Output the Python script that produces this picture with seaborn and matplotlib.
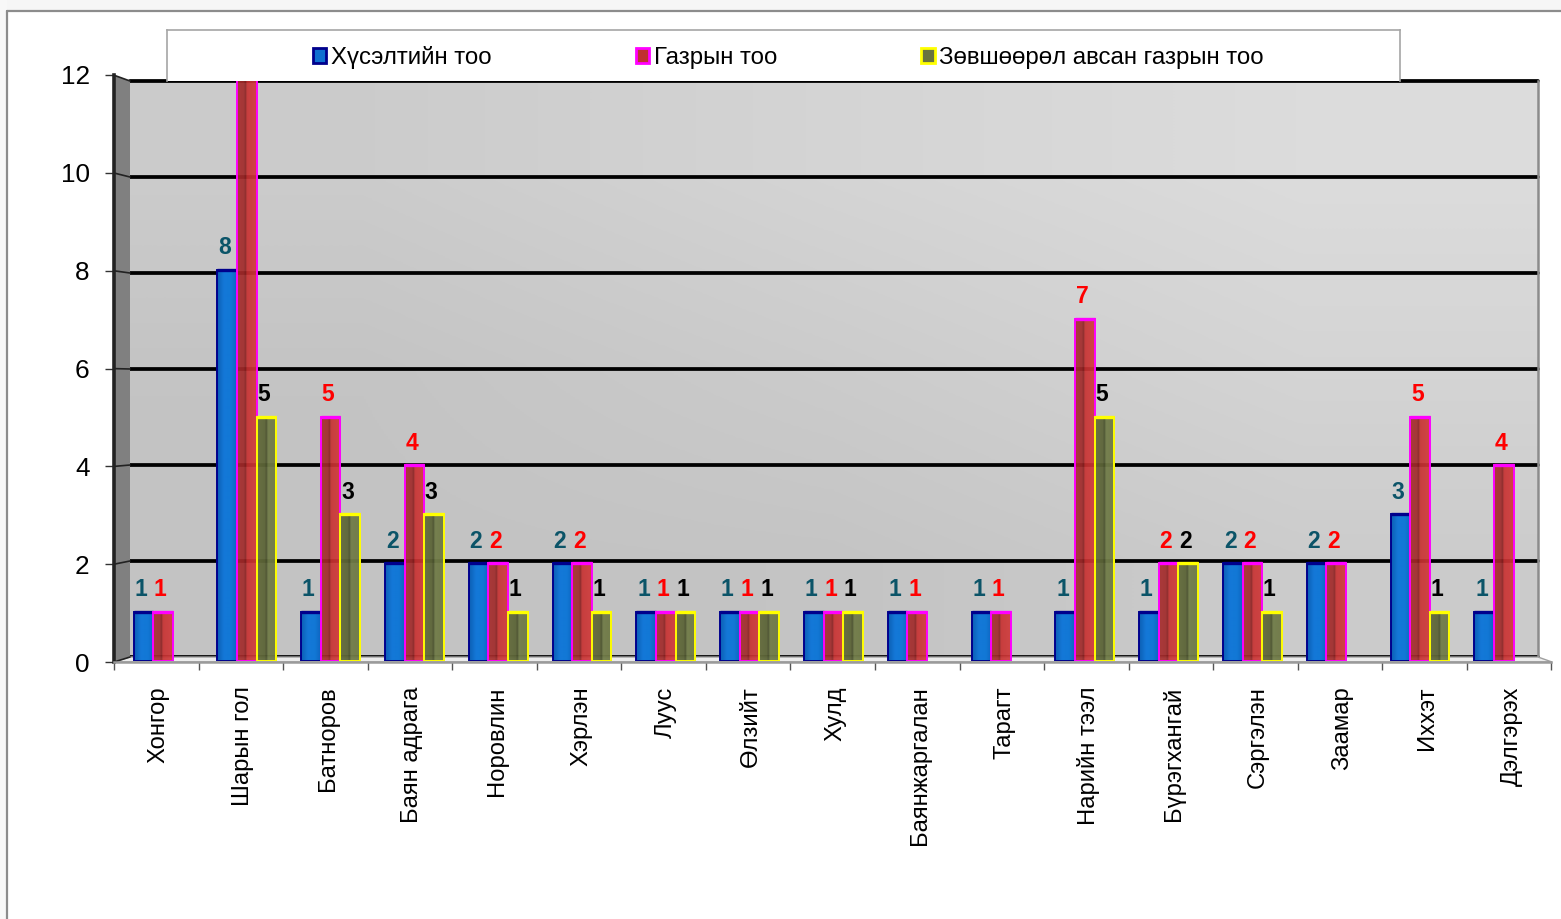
import numpy as np
import pandas as pd
import matplotlib
matplotlib.use("Agg")
import matplotlib.pyplot as plt
from matplotlib.patches import Polygon, Patch
from matplotlib.lines import Line2D
from matplotlib.colors import LinearSegmentedColormap
import seaborn as sns

categories = ["Хонгор", "Шарын гол", "Батноров", "Баян адрага", "Норовлин", "Хэрлэн",
              "Луус", "Өлзийт", "Хулд", "Баянжаргалан", "Тарагт", "Нарийн тээл",
              "Бүрэгхангай", "Сэргэлэн", "Заамар", "Ихxэт".replace("x", "х"), "Дэлгэрэх"]
series_names = ["Хүсэлтийн тоо", "Газрын тоо", "Зөвшөөрөл авсан газрын тоо"]
requests = [1, 8, 1, 2, 2, 2, 1, 1, 1, 1, 1, 1, 1, 2, 2, 3, 1]
lands = [1, 12, 5, 4, 2, 2, 1, 1, 1, 1, 1, 7, 2, 2, 2, 5, 4]
permitted = [np.nan, 5, 3, 3, 1, 1, 1, 1, 1, np.nan, np.nan, 5, 2, 1, np.nan, 1, np.nan]
y_ticks = [0, 2, 4, 6, 8, 10, 12]

edge_colors = ["#00008c", "#ff00ff", "#ffff00"]
fill_colors = ["#1070d0", "#c03030", "#68733f"]
label_colors = ["#0b5468", "#ff0000", "#000000"]
shades = [[(0, "#0c5fb4"), (0.35, "#1478d8"), (0.7, "#1278d6"), (1, "#0e66c0")],
          [(0, "#a82c2c"), (0.36, "#a02a2a"), (0.42, "#801e1e"), (0.5, "#c83232"), (1, "#d03838")],
          [(0, "#646c3c"), (0.4, "#5c6438"), (0.47, "#474e2c"), (0.55, "#727d49"), (1, "#6e7845")]]
bar_alpha = [1.0, 0.92, 0.95]

W, H = 1561, 919
sns.set_theme(style="white")
plt.rcParams["font.family"] = ["Liberation Sans", "DejaVu Sans"]

fig = plt.figure(figsize=(W / 100, H / 100), dpi=100, facecolor="white")


def fx(px):
    return px / W


def fy(py):
    return 1 - py / H


def box(x0, x1, ytop, ybot, **kw):
    return fig.add_axes([fx(x0), fy(ybot), (x1 - x0) / W, (ybot - ytop) / H], **kw)


tr = fig.transFigure


def poly(points, **kw):
    fig.add_artist(Polygon([(fx(a), fy(b)) for a, b in points], closed=True, transform=tr, **kw))


def seg(x0, y0, x1, y1, **kw):
    fig.add_artist(Line2D([fx(x0), fx(x1)], [fy(y0), fy(y1)], transform=tr, **kw))


# picture surround
poly([(0, 0), (W, 0), (W, 11), (0, 11)], facecolor="#f6f6f6", edgecolor="none", zorder=0)
poly([(0, 0), (7, 0), (7, H), (0, H)], facecolor="#f8f8f8", edgecolor="none", zorder=0)
seg(7, 11, W, 11, color="#8c8c8c", lw=1.6, zorder=0.5)
seg(7, 11, 7, H, color="#8c8c8c", lw=1.6, zorder=0.5)

# back wall
wall = box(130, 1538, 81, 657, zorder=1)
grad = np.array([[0.35, 0.7, 1.0], [0.05, 0.35, 0.7], [0.0, 0.05, 0.35]])
wall.imshow(grad, origin="upper", aspect="auto", extent=(0, 1, 0, 12), interpolation="bilinear",
            cmap=LinearSegmentedColormap.from_list("w", ["#c3c3c3", "#dcdcdc"]), zorder=0)
wall.set_xlim(0, 1)
wall.set_ylim(0, 12)
wall.set_xticks([])
wall.set_yticks(y_ticks)
wall.tick_params(left=False, labelleft=False)
wall.grid(False)
for v in y_ticks:
    wall.axhline(v, color="black", lw=2.7, zorder=1, clip_on=False)
for name, spine in wall.spines.items():
    spine.set_visible(name == "right")
    spine.set_color("#8c8c8c")
    spine.set_linewidth(1.8)

# side wall and floor
poly([(114, 75), (130, 81), (130, 657), (114, 662)], facecolor="#808080", edgecolor="none", zorder=1.5)
poly([(114, 662), (130, 657), (1538, 657), (1552, 662)], facecolor="#ececec", edgecolor="#a0a0a0",
     lw=1, zorder=1.5)
for v in y_ticks:
    seg(114, 662 - v * 48.9, 130, 657 - v * 48, color="#222222", lw=1.2, zorder=1.6)

# axis frame with ticks and labels
frame = box(114, 1551.5, 75, 662, zorder=2)
frame.patch.set_alpha(0)
frame.set_xlim(-0.5, len(categories) - 0.5)
frame.set_ylim(0, 12)
frame.set_yticks(y_ticks)
frame.tick_params(axis="y", left=True, length=6.5, width=1, color="#333333", pad=11, labelsize=18.8,
                  labelcolor="black")
frame.set_xticks(np.arange(len(categories) + 1) - 0.5)
frame.tick_params(axis="x", which="major", bottom=True, length=6, width=1, color="#555555",
                  labelbottom=False)
frame.set_xticks(np.arange(len(categories)) + 0.03, labels=categories, minor=True)
frame.tick_params(axis="x", which="minor", bottom=False, length=0, pad=17.5, labelsize=17.1,
                  labelrotation=90, labelcolor="black")
for t in frame.get_xminorticklabels():
    t.set_ha("center")
    t.set_va("top")
for name, spine in frame.spines.items():
    spine.set_visible(name in ("left", "bottom"))
frame.spines["left"].set_color("#222222")
frame.spines["left"].set_linewidth(2.6)
frame.spines["bottom"].set_color("#9a9a9a")
frame.spines["bottom"].set_linewidth(1.8)

# bars
df = pd.DataFrame({"category": categories, series_names[0]: requests,
                   series_names[1]: lands, series_names[2]: permitted})
long_df = df.melt(id_vars="category", var_name="series", value_name="value").dropna()

ax = box(114, 1552, 74.2, 661, zorder=3)
ax.patch.set_alpha(0)
sns.barplot(data=long_df, x="category", y="value", hue="series", order=categories,
            hue_order=series_names, palette=fill_colors, width=0.7, gap=0, errorbar=None,
            legend=False, ax=ax)
ax.set_xlim((114 - 163) / 83.8, (1552 - 163) / 83.8)
ax.set_ylim(0, 12)
ax.set_xlabel("")
ax.set_ylabel("")
ax.set_xticks([])
ax.set_yticks([])
ax.grid(False)
ax.autoscale(False)
for spine in ax.spines.values():
    spine.set_visible(False)

shade_ramp = np.linspace(0, 1, 40)[None, :]
for k, cont in enumerate(ax.containers):
    cmap = LinearSegmentedColormap.from_list(f"s{k}", shades[k])
    base_z = 2 + k
    for p in cont.patches:
        x0, w, h = p.get_x(), p.get_width(), p.get_height()
        p.set_facecolor("none")
        p.set_edgecolor(edge_colors[k])
        p.set_linewidth(1.4)
        p.set_zorder(base_z + 0.3)
        im = ax.imshow(shade_ramp, extent=(x0, x0 + w, 0, h), aspect="auto",
                       cmap=cmap, alpha=bar_alpha[k], zorder=base_z, interpolation="bilinear")
        im.set_clip_path(p)
        ax.plot([x0, x0 + w], [h, h], color=edge_colors[k], lw=2.4, zorder=base_z + 0.4,
                solid_capstyle="butt", clip_on=False)
    labels = ax.bar_label(cont, fmt="%d", padding=8, fontsize=16.5, fontweight="bold",
                          color=label_colors[k], zorder=8)
    for lab in labels:
        lab.xyann = (-2, 7.7)
ax.set_xlim((114 - 163) / 83.8, (1552 - 163) / 83.8)
ax.set_ylim(0, 12)

# legend box
leg_ax = box(167, 1400, 30, 81, zorder=4)
leg_ax.set_facecolor("white")
leg_ax.set_xticks([])
leg_ax.set_yticks([])
for name, spine in leg_ax.spines.items():
    spine.set_visible(name != "bottom")
    spine.set_color("#a6a6a6")
    spine.set_linewidth(1.2)
handles = [Patch(facecolor=f, edgecolor=e, linewidth=2, label=n)
           for f, e, n in zip(fill_colors, edge_colors, series_names)]
leg = leg_ax.legend(handles=handles, ncols=3, loc="center", frameon=False,
                    bbox_to_anchor=((788.5 - 167) / 1233, 0.46), fontsize=17.3,
                    handlelength=0.55, handleheight=0.55, handletextpad=0.2, columnspacing=6.0,
                    borderpad=0, labelcolor="black")

fig.savefig("out.png", dpi=100)
